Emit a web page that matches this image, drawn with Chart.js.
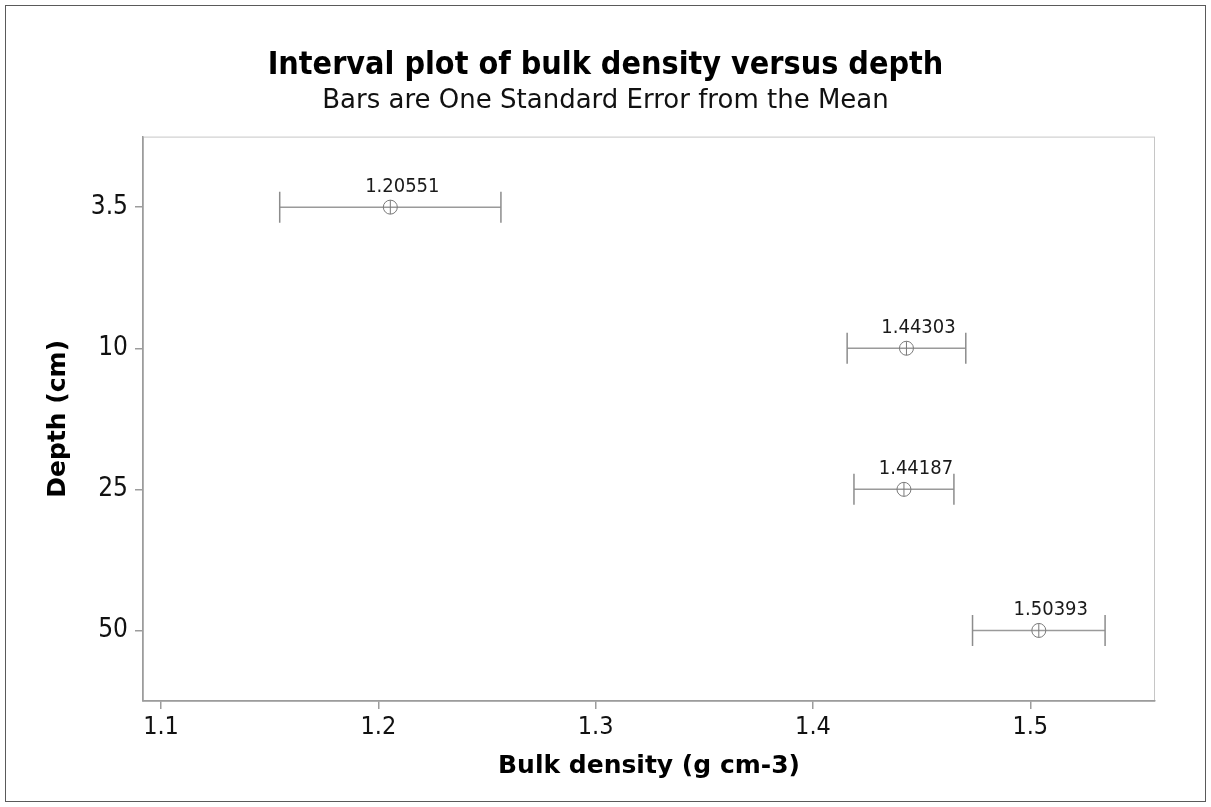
<!DOCTYPE html>
<html>
<head>
<meta charset="utf-8">
<script src="https://cdn.jsdelivr.net/npm/chart.js@4.4.1/dist/chart.umd.min.js"></script>
<style>
  html, body { margin: 0; padding: 0; background: #ffffff; }
  #wrap { position: relative; width: 1211px; height: 807px; }
</style>
</head>
<body>
<div id="wrap"><canvas id="c" width="1211" height="807"></canvas></div>
<script>
// Depth classes (cm) and bulk density summary per class
const depths = ['3.5', '10', '25', '50'];
const means = [1.20551, 1.44303, 1.44187, 1.50393];
const stdErrors = [0.0509, 0.0273, 0.0230, 0.0305];
const xTickValues = [1.1, 1.2, 1.3, 1.4, 1.5];

const NARROW = "'DejaVu Sans Condensed', 'DejaVu Sans', sans-serif";
const WIDE = "'DejaVu Sans', sans-serif";
const BAR_COLOR = '#9a9a9a';
const MARK_COLOR = '#7a7a7a';

// One line dataset per depth: horizontal interval with end caps
const intervalSets = depths.map((d, i) => ({
  type: 'scatter',
  data: [
    { x: means[i] - stdErrors[i], y: d },
    { x: means[i] + stdErrors[i], y: d }
  ],
  showLine: true,
  borderColor: BAR_COLOR,
  borderWidth: 1.5,
  pointStyle: 'line',
  rotation: 90,
  pointRadius: 15.5,
  pointHoverRadius: 15.5,
  pointBorderColor: '#8c8c8c',
  pointBorderWidth: 1.5,
  order: 3
}));

const meanCircle = {
  type: 'scatter',
  data: depths.map((d, i) => ({ x: means[i], y: d })),
  pointStyle: 'circle',
  pointRadius: 7,
  pointHoverRadius: 7,
  pointBorderColor: MARK_COLOR,
  pointBorderWidth: 1,
  pointBackgroundColor: 'rgba(0,0,0,0)',
  order: 2
};

const meanStroke = {
  type: 'scatter',
  data: depths.map((d, i) => ({ x: means[i], y: d })),
  pointStyle: 'line',
  rotation: 90,
  pointRadius: 7,
  pointHoverRadius: 7,
  pointBorderColor: MARK_COLOR,
  pointBorderWidth: 1,
  order: 1
};

// Plot frame and outer border
const framePlugin = {
  id: 'frame',
  beforeDraw(chart) {
    const { ctx, chartArea: a } = chart;
    ctx.save();
    ctx.strokeStyle = '#5a5a5a';
    ctx.lineWidth = 1;
    ctx.strokeRect(5.5, 5.5, chart.width - 11, chart.height - 11);
    ctx.strokeStyle = '#c6c6c6';
    ctx.strokeRect(a.left + 0.5, a.top + 0.5, a.right - a.left - 1, a.bottom - a.top);
    ctx.restore();
  }
};

// Mean value printed above each marker
const meanLabels = {
  id: 'meanLabels',
  afterDatasetsDraw(chart) {
    const { ctx, scales } = chart;
    ctx.save();
    ctx.font = '20px ' + NARROW;
    ctx.fillStyle = '#1a1a1a';
    ctx.textAlign = 'center';
    ctx.textBaseline = 'alphabetic';
    means.forEach((m, i) => {
      const x = scales.x.getPixelForValue(m) + 12;
      const y = scales.y.getPixelForValue(i) - 15;
      ctx.fillText(m.toFixed(5), x, y);
    });
    ctx.restore();
  }
};

new Chart(document.getElementById('c'), {
  type: 'scatter',
  data: { datasets: [...intervalSets, meanCircle, meanStroke] },
  options: {
    responsive: false,
    animation: false,
    events: [],
    layout: { padding: 0 },
    plugins: {
      legend: { display: false },
      tooltip: { enabled: false },
      title: {
        display: true,
        text: 'Interval plot of bulk density versus depth',
        color: '#000000',
        font: { family: NARROW, size: 32, weight: 'bold' },
        padding: { top: 46, bottom: 0 }
      },
      subtitle: {
        display: true,
        text: 'Bars are One Standard Error from the Mean',
        color: '#111111',
        font: { family: WIDE, size: 26, weight: 'normal' },
        padding: { top: 1, bottom: 20 }
      }
    },
    scales: {
      x: {
        type: 'linear',
        position: 'bottom',
        min: 1.0917,
        max: 1.5574,
        afterBuildTicks(s) { s.ticks = xTickValues.map(v => ({ value: v })); },
        afterFit(s) { s.height = 106; },
        border: { display: true, color: '#9c9c9c', width: 1.5 },
        grid: { display: true, drawOnChartArea: false, drawTicks: true, tickLength: 8, color: '#9c9c9c', lineWidth: 1.5 },
        ticks: {
          color: '#111111',
          padding: 3,
          font: { family: NARROW, size: 25 },
          callback: v => Number(v).toFixed(1)
        },
        title: {
          display: true,
          text: 'Bulk density (g cm-3)',
          color: '#000000',
          font: { family: WIDE, size: 25, weight: 'bold' },
          padding: { top: 0, bottom: 26 }
        }
      },
      y: {
        type: 'category',
        position: 'left',
        labels: depths,
        offset: true,
        afterFit(s) { s.width = 143; },
        border: { display: true, color: '#9c9c9c', width: 1.5 },
        grid: { display: true, drawOnChartArea: false, drawTicks: true, tickLength: 8, color: '#9c9c9c', lineWidth: 1.5, offset: false },
        ticks: {
          color: '#111111',
          padding: 7,
          font: { family: NARROW, size: 26 }
        },
        title: {
          display: true,
          text: 'Depth (cm)',
          color: '#000000',
          font: { family: WIDE, size: 25, weight: 'bold' },
          padding: { top: 43, bottom: 0 }
        }
      },
      // empty margin on the right of the plot
      yRight: {
        type: 'category',
        position: 'right',
        labels: depths,
        offset: true,
        afterFit(s) { s.width = 56; },
        border: { display: false },
        grid: { display: false, drawOnChartArea: false, drawTicks: false },
        ticks: { display: false },
        title: { display: false }
      }
    }
  },
  plugins: [framePlugin, meanLabels]
});
</script>
</body>
</html>
